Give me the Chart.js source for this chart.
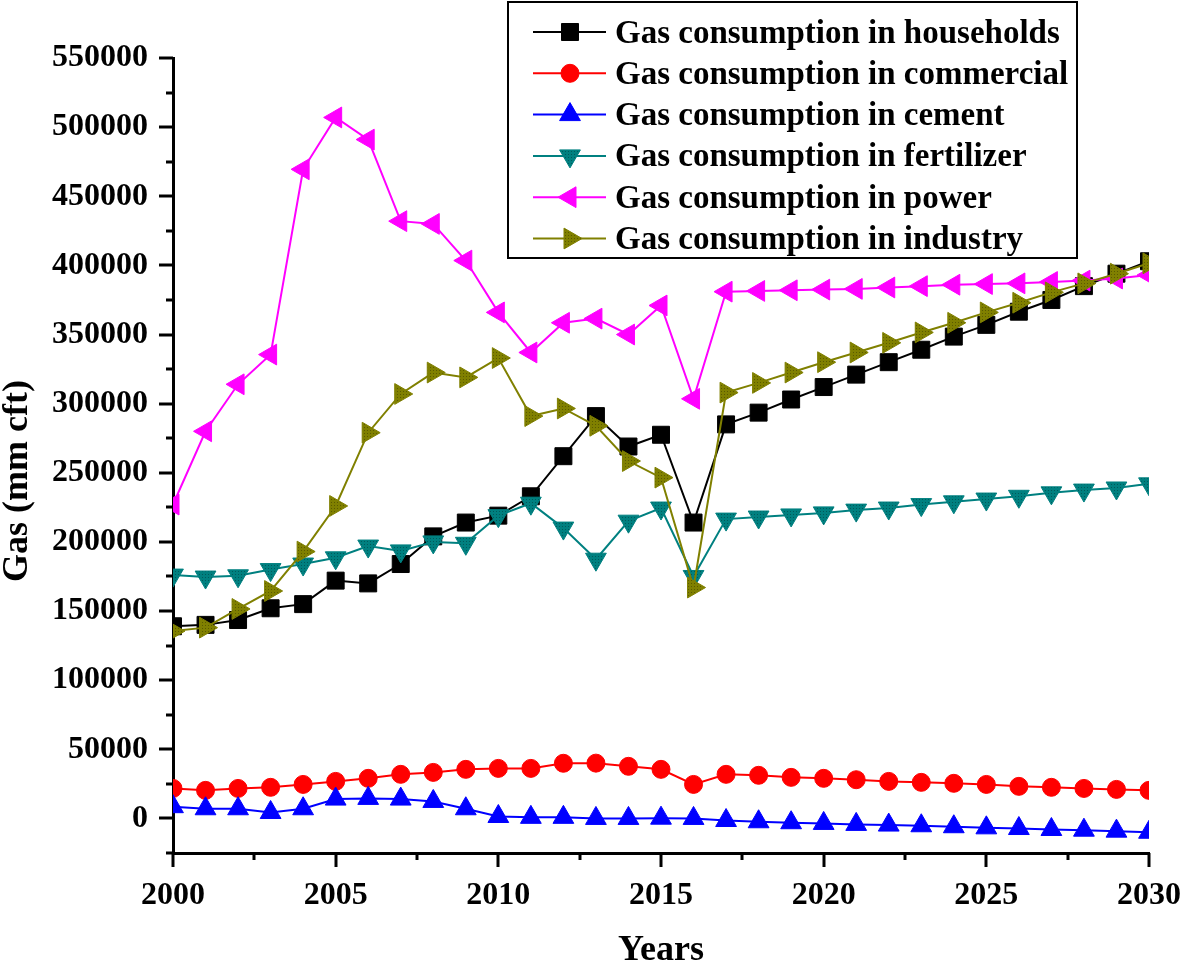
<!DOCTYPE html>
<html>
<head>
<meta charset="utf-8">
<title>Gas consumption by sector</title>
<script src="https://cdn.jsdelivr.net/npm/chart.js@4.4.1/dist/chart.umd.min.js"></script>
<style>
  html, body { margin: 0; padding: 0; background: #fff; }
  #wrap { width: 1181px; height: 963px; }
</style>
</head>
<body>
<div id="wrap"><canvas id="gasChart" width="1181" height="963"></canvas></div>
<script>
// --- Data ---
const years = [2000, 2001, 2002, 2003, 2004, 2005, 2006, 2007, 2008, 2009, 2010,
               2011, 2012, 2013, 2014, 2015, 2016, 2017, 2018, 2019, 2020,
               2021, 2022, 2023, 2024, 2025, 2026, 2027, 2028, 2029, 2030];

const households = [139000, 140000, 143500, 152000, 155000, 172000, 170000, 184000, 204000, 214000, 219000,
                    233000, 262000, 291000, 269000, 277500, 214000, 285000, 293500, 303000, 312000,
                    321000, 330000, 339000, 348500, 357000, 366500, 375000, 385000, 394000, 403000];
const commercial = [21700, 20300, 21700, 22500, 24600, 26800, 29000, 31900, 33300, 35500, 36200,
                    36200, 39900, 40000, 37700, 35500, 24600, 31900, 31200, 29700, 29000,
                    28000, 26800, 26100, 25400, 24600, 23200, 22500, 21700, 21000, 20300];
const cement = [8500, 7000, 7000, 4300, 7000, 14000, 14500, 14000, 12300, 7000, 1400,
                800, 800, 0, 0, 200, 0, -1500, -2400, -3100, -3600,
                -4300, -4800, -5300, -6000, -6800, -7300, -8000, -8500, -9200, -10000];
const fertilizer = [176000, 174600, 175500, 180000, 184000, 188500, 197000, 193500, 200000, 199000, 219000,
                    228000, 210000, 187500, 215000, 224500, 175000, 216500, 218000, 219500, 221000,
                    223000, 224500, 227000, 229000, 231000, 233000, 235500, 237500, 239000, 242000];
const power = [227000, 280000, 314000, 335500, 469500, 507000, 491000, 432000, 430000, 403500, 366000,
               337000, 358500, 361500, 350000, 371000, 303500, 381000, 381500, 382000, 382500,
               383000, 384000, 385000, 386000, 386500, 387000, 388000, 389000, 390500, 393000];
const industry = [135500, 138000, 151500, 164500, 193000, 226000, 279000, 307000, 322500, 319000, 333000,
                  291000, 296500, 284000, 258500, 246500, 167000, 308000, 315000, 322500, 330000,
                  337000, 344000, 351500, 358500, 366000, 373000, 380500, 387000, 394000, 401500];

const seriesLabels = ['Gas consumption in households', 'Gas consumption in commercial',
                      'Gas consumption in cement', 'Gas consumption in fertilizer',
                      'Gas consumption in power', 'Gas consumption in industry'];
const seriesValues = [households, commercial, cement, fertilizer, power, industry];

const yTickLabels = [0, 50000, 100000, 150000, 200000, 250000, 300000, 350000, 400000, 450000, 500000, 550000];
const yMin = -25000, yMax = 550000, yMinorStep = 25000;
const xTickLabels = [2000, 2005, 2010, 2015, 2020, 2025, 2030];
const xMinorStep = 2.5;

// --- Styles ---
const FONT = "'Liberation Serif', 'Times New Roman', serif";
const colors = ['#000000', '#ff0000', '#0000ff', '#008080', '#ff00ff', '#808000'];
const pointStyles = ['rect', 'circle', 'triangle', 'triangle', 'triangle', 'triangle'];
const rotations = [0, 0, 0, 180, 270, 90];
const radii = [12, 9, 12, 12, 12, 12];

// dotted fill like the original's teal/olive markers
function dottedFill(base, dot) {
    const c = document.createElement('canvas');
    c.width = 3; c.height = 3;
    const g = c.getContext('2d');
    g.fillStyle = base; g.fillRect(0, 0, 3, 3);
    g.fillStyle = dot; g.fillRect(1, 1, 1, 1);
    return g.createPattern(c, 'repeat');
}
const fills = colors.slice();
fills[3] = dottedFill('#008080', '#005a5a');
fills[5] = dottedFill('#808000', '#5a5a00');

const datasets = seriesValues.map((vals, i) => ({
    label: seriesLabels[i],
    data: years.map((yr, k) => ({ x: yr, y: vals[k] })),
    borderColor: colors[i],
    backgroundColor: fills[i],
    pointBackgroundColor: fills[i],
    pointBorderColor: colors[i],
    pointBorderWidth: 1,
    borderWidth: 2,
    pointStyle: pointStyles[i],
    rotation: rotations[i],
    pointRadius: radii[i],
    pointHoverRadius: radii[i],
    tension: 0,
    clip: 0,
    order: seriesValues.length - i
}));

const isMajor = (v, list) => list.includes(v);

// tick marks: majors long, minors short, all pointing outward
const axisTicks = {
    id: 'axisTicks',
    afterDraw(chart) {
        const { ctx, scales: { x, y } } = chart;
        ctx.save();
        ctx.strokeStyle = '#000';
        ctx.lineWidth = 3;
        for (let v = yMin; v <= yMax; v += yMinorStep) {
            const py = Math.round(y.getPixelForValue(v));
            const len = isMajor(v, yTickLabels) ? 14 : 7;
            ctx.beginPath();
            ctx.moveTo(y.right - len, py);
            ctx.lineTo(y.right, py);
            ctx.stroke();
        }
        for (let v = years[0]; v <= years[years.length - 1]; v += xMinorStep) {
            const px = Math.round(x.getPixelForValue(v));
            const len = isMajor(v, xTickLabels) ? 14 : 7;
            ctx.beginPath();
            ctx.moveTo(px, x.top);
            ctx.lineTo(px, x.top + len);
            ctx.stroke();
        }
        // y axis title
        ctx.fillStyle = '#000';
        ctx.font = 'bold 36px ' + FONT;
        ctx.textAlign = 'center';
        ctx.textBaseline = 'middle';
        ctx.translate(18, 481);
        ctx.rotate(-Math.PI / 2);
        ctx.fillText('Gas (mm cft)', 0, 0);
        ctx.restore();
    }
};

// boxed legend sitting over the top of the plot
const boxLegend = {
    id: 'boxLegend',
    afterDraw(chart) {
        const ctx = chart.ctx;
        const box = { left: 508, top: 2, right: 1077, bottom: 258 };
        ctx.save();
        ctx.fillStyle = '#fff';
        ctx.fillRect(box.left, box.top, box.right - box.left, box.bottom - box.top);
        ctx.strokeStyle = '#000';
        ctx.lineWidth = 2;
        ctx.strokeRect(box.left, box.top, box.right - box.left, box.bottom - box.top);
        ctx.font = 'bold 33px ' + FONT;
        ctx.textBaseline = 'middle';
        ctx.textAlign = 'left';
        chart.data.datasets.forEach((ds, i) => {
            const ry = 32 + i * 41.3;
            ctx.strokeStyle = ds.borderColor;
            ctx.lineWidth = 2;
            ctx.beginPath();
            ctx.moveTo(533, ry);
            ctx.lineTo(606, ry);
            ctx.stroke();
            ctx.fillStyle = ds.pointBackgroundColor;
            ctx.strokeStyle = ds.pointBorderColor;
            ctx.lineWidth = 1;
            Chart.helpers.drawPoint(ctx, {
                pointStyle: ds.pointStyle, rotation: ds.rotation,
                radius: ds.pointRadius, borderWidth: 1
            }, 570, ry);
            ctx.fillStyle = '#000';
            ctx.fillText(ds.label, 615, ry + 2);
        });
        ctx.restore();
    }
};

new Chart(document.getElementById('gasChart'), {
    type: 'line',
    data: { datasets },
    plugins: [axisTicks, boxLegend],
    options: {
        responsive: false,
        animation: false,
        layout: { padding: { left: 0, top: 58, right: 0, bottom: 0 } },
        plugins: {
            legend: { display: false },
            tooltip: { enabled: false }
        },
        scales: {
            x: {
                type: 'linear',
                min: years[0],
                max: years[years.length - 1],
                grid: { drawOnChartArea: false, drawTicks: false },
                border: { display: true, color: '#000', width: 3 },
                afterBuildTicks: s => { s.ticks = xTickLabels.map(v => ({ value: v })); },
                ticks: {
                    padding: 24,
                    color: '#000',
                    font: { family: FONT, size: 32, weight: 'bold' },
                    callback: v => String(v)
                },
                title: {
                    display: true,
                    text: 'Years',
                    color: '#000',
                    font: { family: FONT, size: 36, weight: 'bold' },
                    padding: { top: 18, bottom: -9 }
                },
                afterFit: s => { s.height = 110; s.paddingRight = 32; s.paddingLeft = 0; }
            },
            y: {
                min: yMin,
                max: yMax,
                grid: { drawOnChartArea: false, drawTicks: false },
                border: { display: true, color: '#000', width: 3 },
                afterBuildTicks: s => { s.ticks = yTickLabels.map(v => ({ value: v })); },
                ticks: {
                    padding: 25,
                    color: '#000',
                    font: { family: FONT, size: 32, weight: 'bold' },
                    callback: v => String(v)
                },
                afterFit: s => { s.width = 173; s.paddingTop = 0; s.paddingBottom = 0; }
            }
        }
    }
});
</script>
</body>
</html>
